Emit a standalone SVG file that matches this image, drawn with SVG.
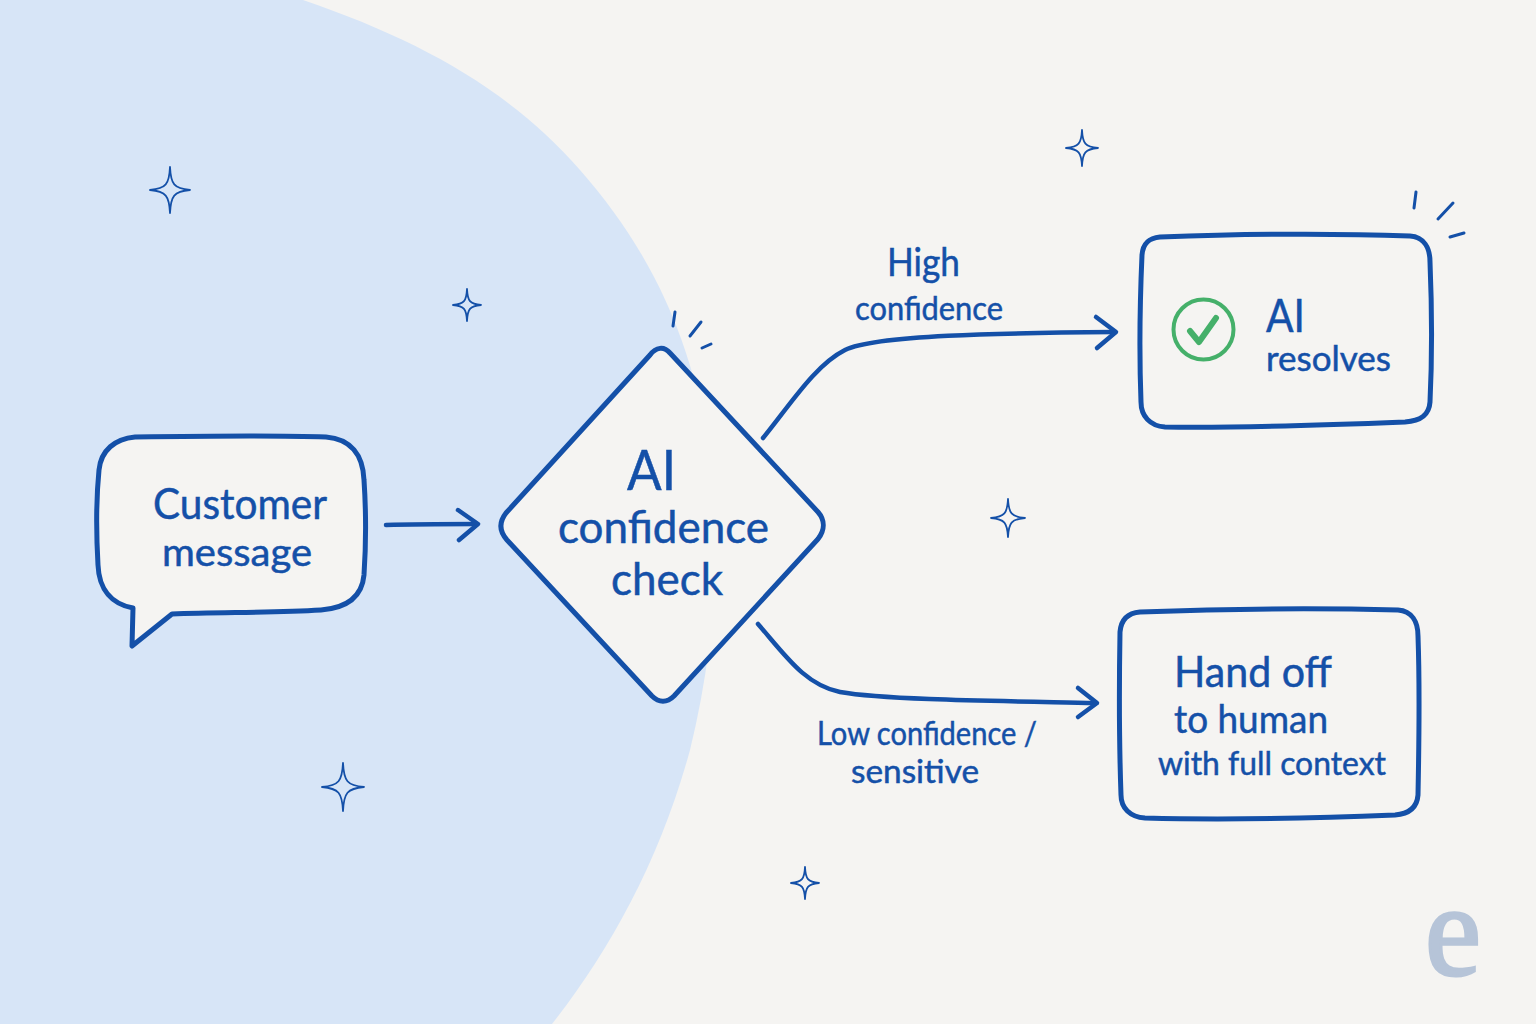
<svg xmlns="http://www.w3.org/2000/svg" width="1536" height="1024" viewBox="0 0 1536 1024">
<defs>
<style>
.ln{fill:none;stroke:#1450a8;stroke-width:4.5;stroke-linecap:round;stroke-linejoin:round}
.nd{fill:#f5f4f2;stroke:#1450a8;stroke-width:5;stroke-linejoin:round}
.sp{fill:none;stroke:#1450a8;stroke-width:1.8;stroke-linejoin:round}
.tk{fill:none;stroke:#1450a8;stroke-width:3;stroke-linecap:round}
text{font-family:"Lato","Noto Sans",sans-serif;fill:#1450a8;stroke:#1450a8;stroke-width:.5}
</style>
<path id="star" d="M0-1C.04-.25.2-.06 1 0 .2.06.04.25 0 1-.04.25-.2.06-1 0-.2-.06-.04-.25 0-1Z" vector-effect="non-scaling-stroke"/>
</defs>
<rect width="1536" height="1024" fill="#f5f4f2"/>
<path id="background-shape" d="M0 0H303C420 40 510 90 580 170C650 250 695 340 712 470C722 560 712 660 690 750C660 860 610 950 552 1024H0Z" fill="#d7e5f7"/>
<g id="sparkles" class="sp">
<use href="#star" transform="translate(170 190) scale(20 23)"/>
<use href="#star" transform="translate(467 305) scale(14 16)"/>
<use href="#star" transform="translate(343 787) scale(21 24)"/>
<use href="#star" transform="translate(1082 148) scale(16 18)"/>
<use href="#star" transform="translate(1008 518) scale(17 19)"/>
<use href="#star" transform="translate(805 883) scale(14 16)"/>
</g>
<g id="connectors" class="ln">
<path d="M386 525 C415 524 445 524 476 524"/>
<path d="M458 510 L478 524 L459 540"/>
<path d="M763 438 C790 405 815 365 845 350 C875 335 1000 333 1114 332"/>
<path d="M1096 317 L1116 332 L1097 348"/>
<path d="M758 624 C785 655 805 685 840 692 C885 700 1000 701 1095 703"/>
<path d="M1078 688 L1097 703 L1078 717"/>
</g>
<g id="customer-message">
<path class="nd" d="M135 437 C200 436 270 435 326 437 C351 439 363 455 364 480 C366 510 366 545 364 575 C362 597 346 608 321 610 C270 613 220 612 172 614 L132 646 L133 608 C112 604 99 590 98 565 C96 530 96 500 99 470 C101 450 115 439 135 437Z"/>
<text x="153" y="519" font-size="42" textLength="174" lengthAdjust="spacingAndGlyphs">Customer</text>
<text x="162" y="566" font-size="38" textLength="150" lengthAdjust="spacingAndGlyphs">message</text>
</g>
<g id="ai-confidence-check">
<path class="nd" d="M650 355 C656 347 664 346 670 353 L818 512 C825 520 825 530 818 539 L674 696 C667 703 659 703 652 696 L507 540 C499 531 499 522 506 513Z"/>
<text x="627" y="490" font-size="56" textLength="49" lengthAdjust="spacingAndGlyphs">AI</text>
<text x="558" y="543" font-size="44" textLength="211" lengthAdjust="spacingAndGlyphs">confidence</text>
<text x="611" y="595" font-size="44" textLength="112" lengthAdjust="spacingAndGlyphs">check</text>
<path class="tk" d="M675 312 L673 326M701 322 L690 336M711 344 L702 348"/>
</g>
<g id="ai-resolves">
<path class="nd" d="M1160 237 C1240 234 1330 233 1410 236 C1424 237 1430 248 1430 262 C1432 310 1432 360 1430 402 C1429 416 1420 421 1405 422 C1330 425 1240 428 1165 427 C1150 426 1141 416 1141 402 C1139 350 1140 300 1142 255 C1143 243 1149 238 1160 237Z"/>
<circle cx="1203.500" cy="329.500" r="30" fill="none" stroke="#45b06a" stroke-width="4"/>
<path d="M1190 331 L1199 342 L1216 318" fill="none" stroke="#45b06a" stroke-width="6" stroke-linecap="round" stroke-linejoin="round"/>
<text x="1266" y="332" font-size="46" textLength="39" lengthAdjust="spacingAndGlyphs">AI</text>
<text x="1266" y="371" font-size="34" textLength="125" lengthAdjust="spacingAndGlyphs">resolves</text>
<path class="tk" d="M1416 192 L1414 208M1453 203 L1438 219M1464 233 L1450 237"/>
</g>
<g id="hand-off">
<path class="nd" d="M1140 612 C1220 609 1320 608 1398 610 C1412 611 1418 622 1418 636 C1420 690 1419 745 1418 795 C1417 808 1408 814 1395 815 C1320 818 1220 820 1145 818 C1130 817 1121 808 1121 795 C1119 740 1119 690 1120 632 C1121 620 1128 613 1140 612Z"/>
<text x="1174" y="687" font-size="42" textLength="158" lengthAdjust="spacingAndGlyphs">Hand off</text>
<text x="1174" y="733" font-size="38" textLength="154" lengthAdjust="spacingAndGlyphs">to human</text>
<text x="1158" y="775" font-size="33" textLength="228" lengthAdjust="spacingAndGlyphs">with full context</text>
</g>
<g id="labels">
<text x="887" y="276" font-size="38" textLength="73" lengthAdjust="spacingAndGlyphs">High</text>
<text x="855" y="320" font-size="32" textLength="148" lengthAdjust="spacingAndGlyphs">confidence</text>
<text x="817" y="745" font-size="32" textLength="220" lengthAdjust="spacingAndGlyphs">Low confidence /</text>
<text x="851" y="783" font-size="32" textLength="128" lengthAdjust="spacingAndGlyphs">sensitive</text>
</g>
<text id="logo" x="1425" y="975" font-size="132" style="font-family:'Liberation Serif',serif;fill:#b6c4d8;stroke:#b6c4d8;stroke-width:3" textLength="56" lengthAdjust="spacingAndGlyphs">e</text>
</svg>
